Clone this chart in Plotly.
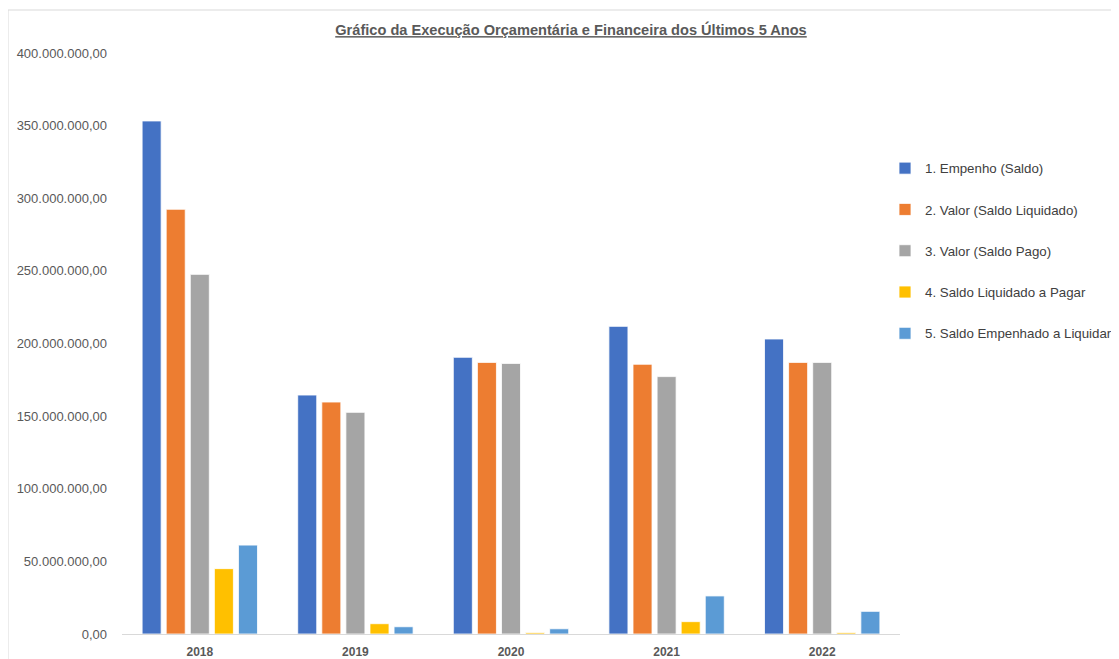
import plotly.graph_objects as go

years = ["2018", "2019", "2020", "2021", "2022"]
series_names = [
    "1. Empenho (Saldo)",
    "2. Valor (Saldo Liquidado)",
    "3. Valor (Saldo Pago)",
    "4. Saldo Liquidado a Pagar",
    "5. Saldo Empenhado a Liquidar",
]
empenho = [353.2e6, 164.5e6, 190.5e6, 211.8e6, 203.1e6]
liquidado = [292.4e6, 159.7e6, 187.0e6, 185.7e6, 187.0e6]
pago = [247.6e6, 152.6e6, 186.3e6, 177.2e6, 187.0e6]
liq_a_pagar = [45.0e6, 7.1e6, 0.9e6, 8.5e6, 0.9e6]
emp_a_liquidar = [61.2e6, 5.0e6, 3.6e6, 26.2e6, 15.6e6]
series_values = [empenho, liquidado, pago, liq_a_pagar, emp_a_liquidar]
colors = ["#4472C4", "#ED7D31", "#A5A5A5", "#FFC000", "#5B9BD5"]

tick_vals = [0, 50e6, 100e6, 150e6, 200e6, 250e6, 300e6, 350e6, 400e6]
tick_text = ["0,00", "50.000.000,00", "100.000.000,00", "150.000.000,00",
             "200.000.000,00", "250.000.000,00", "300.000.000,00",
             "350.000.000,00", "400.000.000,00"]

title_text = "Gráfico da Execução Orçamentária e Financeira dos Últimos 5 Anos"

fig = go.Figure()
for name, vals, col in zip(series_names, series_values, colors):
    fig.add_trace(go.Bar(
        x=years, y=vals, name=name, legendgroup=name,
        marker=dict(color=col, line=dict(color="white", width=0.8)),
    ))

# page has an 8px body margin; work in page coordinates and shift
OFF = 8
PW, PH = 1119, 659
W, H = PW - OFF, PH - OFF
L, R, T, B = 122 - OFF, 219, 53 - OFF, 25
pw, ph = W - L - R, H - T - B


def px_x(page_x):
    return (page_x - OFF - L) / pw


def px_y(page_y):
    return (H - B - (page_y - OFF)) / ph


fig.update_layout(
    width=W, height=H,
    margin=dict(l=L, r=R, t=T, b=B, pad=0, autoexpand=False),
    paper_bgcolor="white", plot_bgcolor="white",
    barmode="group", bargap=0.226, bargroupgap=0.21,
    font=dict(family="Liberation Sans, Arial, sans-serif", size=12, color="#595959"),
    title=dict(
        text="<b><u>" + title_text + "</u></b>",
        x=(571 - OFF) / W, xref="container", xanchor="center",
        y=1 - (30 - OFF) / H, yref="container", yanchor="middle",
        font=dict(size=14.6, color="#595959"),
    ),
    showlegend=True,
    legend=dict(
        x=px_x(885), xanchor="left",
        y=px_y(153), yanchor="top",
        font=dict(size=13.3, color="#404040"),
        tracegroupgap=21, itemwidth=30,
        bgcolor="rgba(0,0,0,0)",
    ),
    xaxis=dict(
        showgrid=False, showline=True, linecolor="#D9D9D9", linewidth=1,
        ticks="", automargin=False, ticklabelstandoff=7,
        tickfont=dict(size=12, color="#595959"),
        tickprefix="<b>", ticksuffix="</b>",
    ),
    yaxis=dict(
        range=[0, 400e6], showgrid=False, zeroline=False, showline=False,
        tickvals=tick_vals, ticktext=tick_text, ticks="", automargin=False,
        ticklabelstandoff=14,
        tickfont=dict(size=13, color="#595959"),
    ),
    shapes=[dict(
        type="rect", xref="paper", yref="paper",
        x0=px_x(OFF), x1=px_x(PW + 5),
        y0=px_y(PH + 5), y1=px_y(10),
        line=dict(color="#D9D9D9", width=1), fillcolor="rgba(0,0,0,0)",
        layer="below",
    )],
)

fig.write_html("out.html")
